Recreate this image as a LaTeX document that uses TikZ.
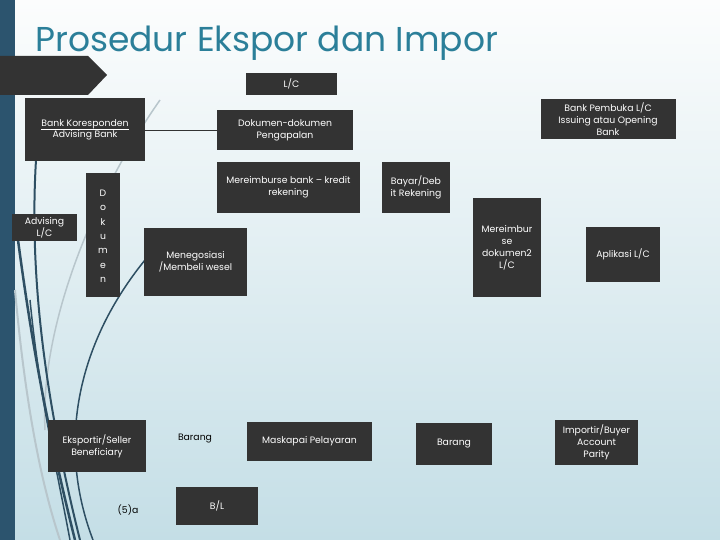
\documentclass[tikz,border=0pt]{standalone}
\usepackage{fontspec}
\setmainfont{Poppins}
\usepackage{tikz}
\definecolor{boxgray}{RGB}{51, 51, 51}
\definecolor{strip}{RGB}{44, 84, 110}
\definecolor{titleteal}{RGB}{43, 127, 153}
\definecolor{swoosh}{RGB}{46, 79, 99}
\definecolor{swooshlight}{RGB}{184, 198, 204}
\definecolor{bgtop}{RGB}{252, 253, 253}
\definecolor{bgbottom}{RGB}{196, 222, 230}

\tikzset{
  box/.style={fill=boxgray, text=white, font=\fontsize{9.3}{12}\selectfont,
    inner sep=0pt, align=center},
  plain/.style={text=black, font=\fontsize{9.3}{12}\selectfont, inner sep=0pt}
}

\begin{document}
\begin{tikzpicture}[x=1pt, y=-1pt]
  \useasboundingbox (0, 0) rectangle (720, 540);
  \shade[top color=bgtop, bottom color=bgbottom] (0, 0) rectangle (720, 540);
  \fill[strip] (0, 0) rectangle (15, 540);

  % background swooshes
  \draw[swooshlight, line width=1.5] (160, 100) .. controls (90, 200) and (40, 330) .. (45, 430);
  \draw[swooshlight, line width=2] (15, 290) .. controls (25, 400) and (40, 480) .. (60, 540);
  \draw[swoosh, line width=2] (36, 160) .. controls (30, 260) and (40, 380) .. (80, 540);
  \draw[swoosh, line width=2.5] (18, 240) .. controls (30, 330) and (45, 420) .. (75, 540);
  \draw[swoosh, line width=1.5] (30, 300) .. controls (40, 400) and (55, 460) .. (70, 540);
  \draw[swoosh, line width=1.5] (145, 260) .. controls (80, 340) and (55, 440) .. (93, 540);

  % title banner
  \fill[boxgray] (0, 56) -- (88, 56) -- (107, 75) -- (88, 95) -- (0, 95) -- cycle;
  \node[anchor=base west, text=titleteal, font=\fontsize{34.5}{38}\selectfont, inner sep=0pt]
    (title) at (35, 52) {Prosedur Ekspor dan Impor};

  % boxes
  \node[box, minimum width=91, minimum height=22] (lc) at (291.5, 84) {L/C};
  \node[box, minimum width=120, minimum height=63] (koresponden) at (85, 130)
    {Bank Koresponden\\[-1pt]Advising Bank};
  \draw[white, line width=0.5] (41, 129) -- (129, 129);
  \node[box, minimum width=136, minimum height=40] (pengapalan) at (285, 130)
    {Dokumen-dokumen\\Pengapalan};
  \node[box, minimum width=135, minimum height=40] (pembuka) at (608, 119)
    {Bank Pembuka L/C\\Issuing atau Opening\\Bank};
  \node[box, minimum width=143, minimum height=51] (reimburse) at (288.5, 187.5)
    {Mereimburse bank -- kredit\\rekening};
  \node[box, minimum width=68, minimum height=51] (bayar) at (416, 187.5)
    {Bayar/Deb\\it Rekening};
  \node[box, minimum width=65, minimum height=27] (advising) at (44.5, 227.5)
    {Advising\\L/C};
  \node[box, minimum width=34, minimum height=124] (dokumen) at (103, 235) {};
  \foreach \ch [count=\i] in {D, o, k, u, m, e, n} {
    \node[text=white, font=\fontsize{9.3}{12}\selectfont, inner sep=0pt]
      at (103, 178.5 + 14.5*\i) {\ch};
  }
  \node[box, minimum width=103, minimum height=68] (negosiasi) at (195.5, 262)
    {Menegosiasi\\/Membeli wesel};
  \node[box, minimum width=68, minimum height=99] (dokumenlc) at (507, 247.5)
    {Mereimbur\\se\\dokumen2\\L/C};
  \node[box, minimum width=74, minimum height=55] (aplikasi) at (623, 254.5)
    {Aplikasi L/C};
  \node[box, minimum width=98, minimum height=52] (eksportir) at (97, 446)
    {Eksportir/Seller\\Beneficiary};
  \node[plain] (barangteks) at (195, 439) {Barang};
  \node[box, minimum width=125, minimum height=39] (maskapai) at (309.5, 441.5)
    {Maskapai Pelayaran};
  \node[box, minimum width=76, minimum height=42] (barang) at (454, 444) {Barang};
  \node[box, minimum width=83, minimum height=45] (importir) at (596.5, 442.5)
    {Importir/Buyer\\Account\\Parity};
  \node[plain] (limaa) at (128, 510) {(5)a};
  \node[box, minimum width=82, minimum height=38] (bl) at (217, 506) {B/L};

  \draw[boxgray, line width=0.8] (koresponden) -- (pengapalan);
\end{tikzpicture}
\end{document}
